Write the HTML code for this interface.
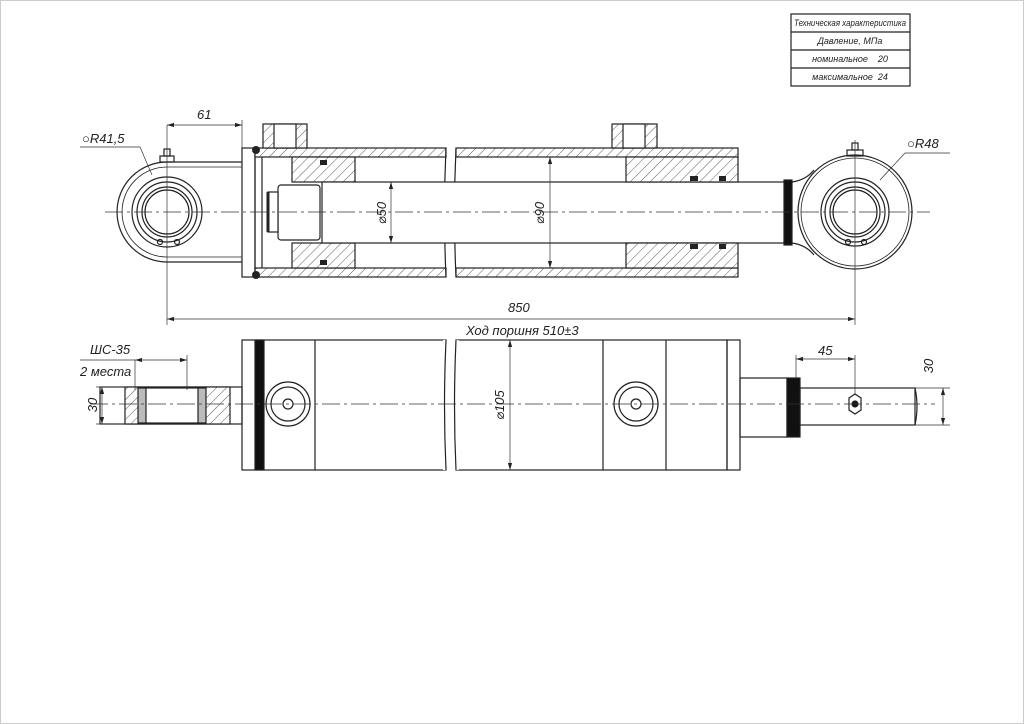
<!DOCTYPE html>
<html><head><meta charset="utf-8"><style>
html,body{margin:0;padding:0;background:#fff}
svg{display:block}
text{font-family:"Liberation Sans","DejaVu Sans",sans-serif;font-style:italic;fill:#222}
</style></head><body>
<svg width="1024" height="724" viewBox="0 0 1024 724" xmlns="http://www.w3.org/2000/svg">
<defs>
<pattern id="h" width="7" height="7" patternUnits="userSpaceOnUse" patternTransform="rotate(45)">
<rect width="7" height="7" fill="#fff"/><line x1="0" y1="0" x2="0" y2="7" stroke="#333" stroke-width="0.8"/></pattern>
<marker id="a" viewBox="0 0 10 6" refX="10" refY="3" markerWidth="10" markerHeight="6" orient="auto-start-reverse"><path d="M0,0L10,3L0,6z" fill="#222"/></marker>
</defs>
<rect x="0.5" y="0.5" width="1023" height="723" fill="#fff" stroke="#ccc"/>
<g fill="none" stroke="#222" stroke-width="1.2">
<rect x="791" y="14" width="119" height="72"/>
<line x1="791" y1="32" x2="910" y2="32"/><line x1="791" y1="50" x2="910" y2="50"/><line x1="791" y1="68" x2="910" y2="68"/>

<path d="M167,162 A50,50 0 0 0 167,262 L242,262 M167,162 L242,162"/>
<path d="M167,167 A45,45 0 0 0 167,257 L242,257 M167,167 L242,167" stroke-width="0.8"/>
<circle cx="167" cy="212" r="35"/><circle cx="167" cy="212" r="30"/><circle cx="167" cy="212" r="25"/><circle cx="167" cy="212" r="22"/>
<circle cx="160" cy="242" r="2.5"/><circle cx="177" cy="242" r="2.5"/>
<rect x="160" y="156" width="14" height="6"/><rect x="164" y="149" width="6" height="7"/>
<rect x="242" y="148" width="13" height="129"/>
<line x1="255" y1="150" x2="255" y2="275"/><line x1="262" y1="157" x2="262" y2="268"/>
<rect x="255" y="148" width="191" height="9" fill="url(#h)"/>
<rect x="255" y="268" width="191" height="9" fill="url(#h)"/>
<rect x="456" y="148" width="282" height="9" fill="url(#h)"/>
<rect x="456" y="268" width="282" height="9" fill="url(#h)"/>
<path d="M446,148 Q443,212 446,277 M456,148 Q453,212 456,277"/>
<rect x="263" y="124" width="44" height="24" fill="url(#h)"/><rect x="274" y="124" width="22" height="24" fill="#fff"/>
<rect x="612" y="124" width="45" height="24" fill="url(#h)"/><rect x="623" y="124" width="22" height="24" fill="#fff"/>
<rect x="292" y="157" width="63" height="25" fill="url(#h)"/>
<rect x="292" y="243" width="63" height="25" fill="url(#h)"/>
<rect x="278" y="185" width="42" height="55" rx="3" fill="#fff"/>
<rect x="268" y="192" width="10" height="40" fill="#fff"/>
<line x1="268" y1="192" x2="268" y2="232" stroke-width="3"/>
<rect x="322" y="182" width="468" height="61" fill="#fff"/>
<rect x="626" y="157" width="112" height="25" fill="url(#h)"/>
<rect x="626" y="243" width="112" height="25" fill="url(#h)"/>
<rect x="784" y="180" width="8" height="65" fill="#111"/>
<path d="M792,182 Q806,180 814,170 M792,243 Q806,245 814,255"/>
<circle cx="855" cy="212" r="57"/><circle cx="855" cy="212" r="54" stroke-width="0.8"/>
<circle cx="855" cy="212" r="34"/><circle cx="855" cy="212" r="30"/><circle cx="855" cy="212" r="25"/><circle cx="855" cy="212" r="22"/>
<circle cx="848" cy="242" r="2.5"/><circle cx="864" cy="242" r="2.5"/>
<rect x="847" y="150" width="16" height="6"/><rect x="852" y="143" width="6" height="7"/>
<g fill="#222" stroke="none">
<rect x="320" y="160" width="7" height="5"/><rect x="320" y="260" width="7" height="5"/>
<rect x="690" y="176" width="8" height="5"/><rect x="690" y="244" width="8" height="5"/>
<rect x="719" y="176" width="7" height="5"/><rect x="719" y="244" width="7" height="5"/>
<circle cx="256" cy="150" r="4"/><circle cx="256" cy="275" r="4"/>
</g>
</g>
<g stroke="#333" stroke-width="0.7" fill="none">
<line x1="105" y1="212" x2="930" y2="212" stroke-dasharray="18,4,3,4"/>
<line x1="167" y1="125" x2="167" y2="325"/><line x1="855" y1="140" x2="855" y2="325"/>
<line x1="242" y1="120" x2="242" y2="148"/>
<line x1="167" y1="125" x2="242" y2="125" marker-start="url(#a)" marker-end="url(#a)"/>
<line x1="167" y1="319" x2="855" y2="319" marker-start="url(#a)" marker-end="url(#a)"/>
<line x1="391" y1="182" x2="391" y2="243" marker-start="url(#a)" marker-end="url(#a)"/>
<line x1="550" y1="157" x2="550" y2="268" marker-start="url(#a)" marker-end="url(#a)"/>
<line x1="80" y1="147" x2="140" y2="147"/><line x1="140" y1="147" x2="152" y2="175"/>
<line x1="905" y1="153" x2="950" y2="153"/><line x1="905" y1="153" x2="880" y2="180"/>
</g>
<g fill="none" stroke="#222" stroke-width="1.2">
<rect x="242" y="340" width="204" height="130"/>
<rect x="456" y="340" width="271" height="130"/>
<path d="M446,340 Q443,405 446,470 M456,340 Q453,405 456,470" stroke="#fff" stroke-width="6"/>
<path d="M446,340 Q443,405 446,470 M456,340 Q453,405 456,470"/>
<rect x="255" y="340" width="9" height="130" fill="#111"/>
<line x1="315" y1="340" x2="315" y2="470"/><line x1="603" y1="340" x2="603" y2="470"/><line x1="666" y1="340" x2="666" y2="470"/>
<circle cx="288" cy="404" r="22"/><circle cx="288" cy="404" r="17"/><circle cx="288" cy="404" r="5"/>
<circle cx="636" cy="404" r="22"/><circle cx="636" cy="404" r="17"/><circle cx="636" cy="404" r="5"/>
<rect x="727" y="340" width="13" height="130"/>
<rect x="740" y="378" width="47" height="59"/>
<rect x="787" y="378" width="13" height="59" fill="#111"/>
<rect x="800" y="388" width="115" height="37"/>
<path d="M915,388 Q919,406 915,425" />
<path d="M849,398 L855,394 L861,398 L861,410 L855,414 L849,410Z"/><circle cx="855" cy="404" r="3" fill="#111"/>
<rect x="100" y="387" width="142" height="37"/>
<rect x="125" y="387" width="105" height="37" fill="url(#h)"/>
<rect x="143" y="388" width="58" height="35" fill="#fff"/>
<rect x="138" y="388" width="8" height="35" fill="#bbb"/><rect x="198" y="388" width="8" height="35" fill="#bbb"/>
</g>
<g stroke="#333" stroke-width="0.7" fill="none">
<line x1="90" y1="404" x2="935" y2="404" stroke-dasharray="18,4,3,4"/>
<line x1="510" y1="340" x2="510" y2="470" marker-start="url(#a)" marker-end="url(#a)"/>
<line x1="80" y1="360" x2="135" y2="360"/><line x1="135" y1="360" x2="135" y2="390"/><line x1="187" y1="355" x2="187" y2="390"/>
<line x1="135" y1="360" x2="187" y2="360" marker-start="url(#a)" marker-end="url(#a)"/>
<line x1="96" y1="387" x2="125" y2="387"/><line x1="96" y1="424" x2="125" y2="424"/>
<line x1="102" y1="387" x2="102" y2="424" marker-start="url(#a)" marker-end="url(#a)"/>
<line x1="796" y1="355" x2="796" y2="378"/><line x1="855" y1="355" x2="855" y2="395"/>
<line x1="796" y1="359" x2="855" y2="359" marker-start="url(#a)" marker-end="url(#a)"/>
<line x1="915" y1="388" x2="950" y2="388"/><line x1="915" y1="425" x2="950" y2="425"/>
<line x1="943" y1="388" x2="943" y2="425" marker-start="url(#a)" marker-end="url(#a)"/>
</g>
<g font-size="9" text-anchor="middle">
<text x="850" y="26" textLength="112" lengthAdjust="spacingAndGlyphs">Техническая характеристика</text>
<text x="850" y="44">Давление, МПа</text>
<text x="850" y="62">номинальное &#160;&#160;&#160;20</text>
<text x="850" y="80">максимальное &#160;24</text>
</g>
<g font-size="13">
<text x="197" y="119">61</text>
<text x="82" y="143">○R41,5</text>
<text x="907" y="148">○R48</text>
<text x="508" y="312">850</text>
<text x="466" y="335">Ход поршня 510±3</text>
<text x="90" y="354">ШС-35</text>
<text x="80" y="376">2 места</text>
<text x="818" y="355">45</text>
<text transform="translate(386,213) rotate(-90)" text-anchor="middle">⌀50</text>
<text transform="translate(544,213) rotate(-90)" text-anchor="middle">⌀90</text>
<text transform="translate(504,405) rotate(-90)" text-anchor="middle">⌀105</text>
<text transform="translate(97,405) rotate(-90)" text-anchor="middle">30</text>
<text transform="translate(933,366) rotate(-90)" text-anchor="middle">30</text>
</g>
</svg>
</body></html>
